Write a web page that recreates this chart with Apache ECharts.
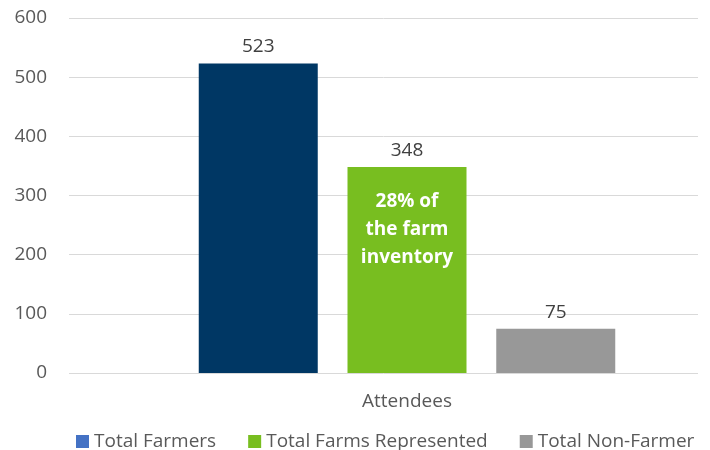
<!DOCTYPE html>
<html><head><meta charset="utf-8">
<script src="https://cdn.jsdelivr.net/npm/echarts@6/dist/echarts.min.js"></script>
<style>html,body{margin:0;padding:0;background:#fff}#c{width:710px;height:450px}</style>
</head><body><div id="c"></div>
<script>
const categories = ['Attendees'];
const seriesNames = ['Total Farmers', 'Total Farms Represented', 'Total Non-Farmer'];
const farmers = [523];
const farmsRepresented = [348];
const nonFarmers = [75];
const yTicks = [0, 100, 200, 300, 400, 500, 600];
const noteText = '28% of\nthe farm\ninventory';
const noteValue = 242;

const font = 'Open Sans';
const fs = 19;
const chart = echarts.init(document.getElementById('c'));
const barColors = ['#003764', '#78BE20', '#989898'];
const legendColors = ['#4472C4', '#78BE20', '#989898'];
const valueLabel = {show: true, position: 'top', distance: 7, color: '#404040', fontFamily: font, fontSize: fs};

chart.setOption({
  animation: false,
  textStyle: {fontFamily: font},
  legend: {
    top: 432, left: 76, padding: 0, itemWidth: 13, itemHeight: 13, itemGap: 32, icon: 'rect',
    textStyle: {color: '#595959', fontSize: fs, fontFamily: font},
    data: seriesNames.map((n, i) => ({name: n, itemStyle: {color: legendColors[i]}}))
  },
  grid: [
    {left: 69, right: 12, top: 18, bottom: 77},
    {left: 116, right: 12, top: 18, bottom: 77}
  ],
  xAxis: [
    {gridIndex: 0, type: 'category', data: [''], axisLine: {show: false}, axisTick: {show: false}, axisLabel: {show: false}},
    {gridIndex: 1, type: 'category', data: categories, axisLine: {show: false}, axisTick: {show: false},
     axisLabel: {color: '#595959', fontSize: fs, fontFamily: font, margin: 19}}
  ],
  yAxis: [
    {gridIndex: 0, type: 'value', min: yTicks[0], max: yTicks[yTicks.length - 1], interval: 100,
     axisLine: {show: false}, axisTick: {show: false},
     axisLabel: {color: '#595959', fontSize: fs, fontFamily: font, margin: 22},
     splitLine: {lineStyle: {color: '#D9D9D9', width: 1}}},
    {gridIndex: 1, type: 'value', min: yTicks[0], max: yTicks[yTicks.length - 1], interval: 100, show: false, splitLine: {show: false}}
  ],
  series: [
    {name: seriesNames[0], type: 'bar', xAxisIndex: 1, yAxisIndex: 1, data: farmers, barWidth: 119, barGap: '25%',
     itemStyle: {color: barColors[0]}, label: valueLabel},
    {name: seriesNames[1], type: 'bar', xAxisIndex: 1, yAxisIndex: 1, data: farmsRepresented, barWidth: 119, barGap: '25%',
     itemStyle: {color: barColors[1]}, label: valueLabel,
     markPoint: {
       symbol: 'rect', symbolSize: 1, itemStyle: {color: 'rgba(0,0,0,0)'},
       label: {show: true, position: 'inside', formatter: noteText, color: '#fff', fontWeight: 'bold',
               fontSize: fs, lineHeight: 28, fontFamily: font, align: 'center'},
       data: [{coord: [categories[0], noteValue]}]
     }},
    {name: seriesNames[2], type: 'bar', xAxisIndex: 1, yAxisIndex: 1, data: nonFarmers, barWidth: 119, barGap: '25%',
     itemStyle: {color: barColors[2]}, label: valueLabel}
  ]
});
</script></body></html>
